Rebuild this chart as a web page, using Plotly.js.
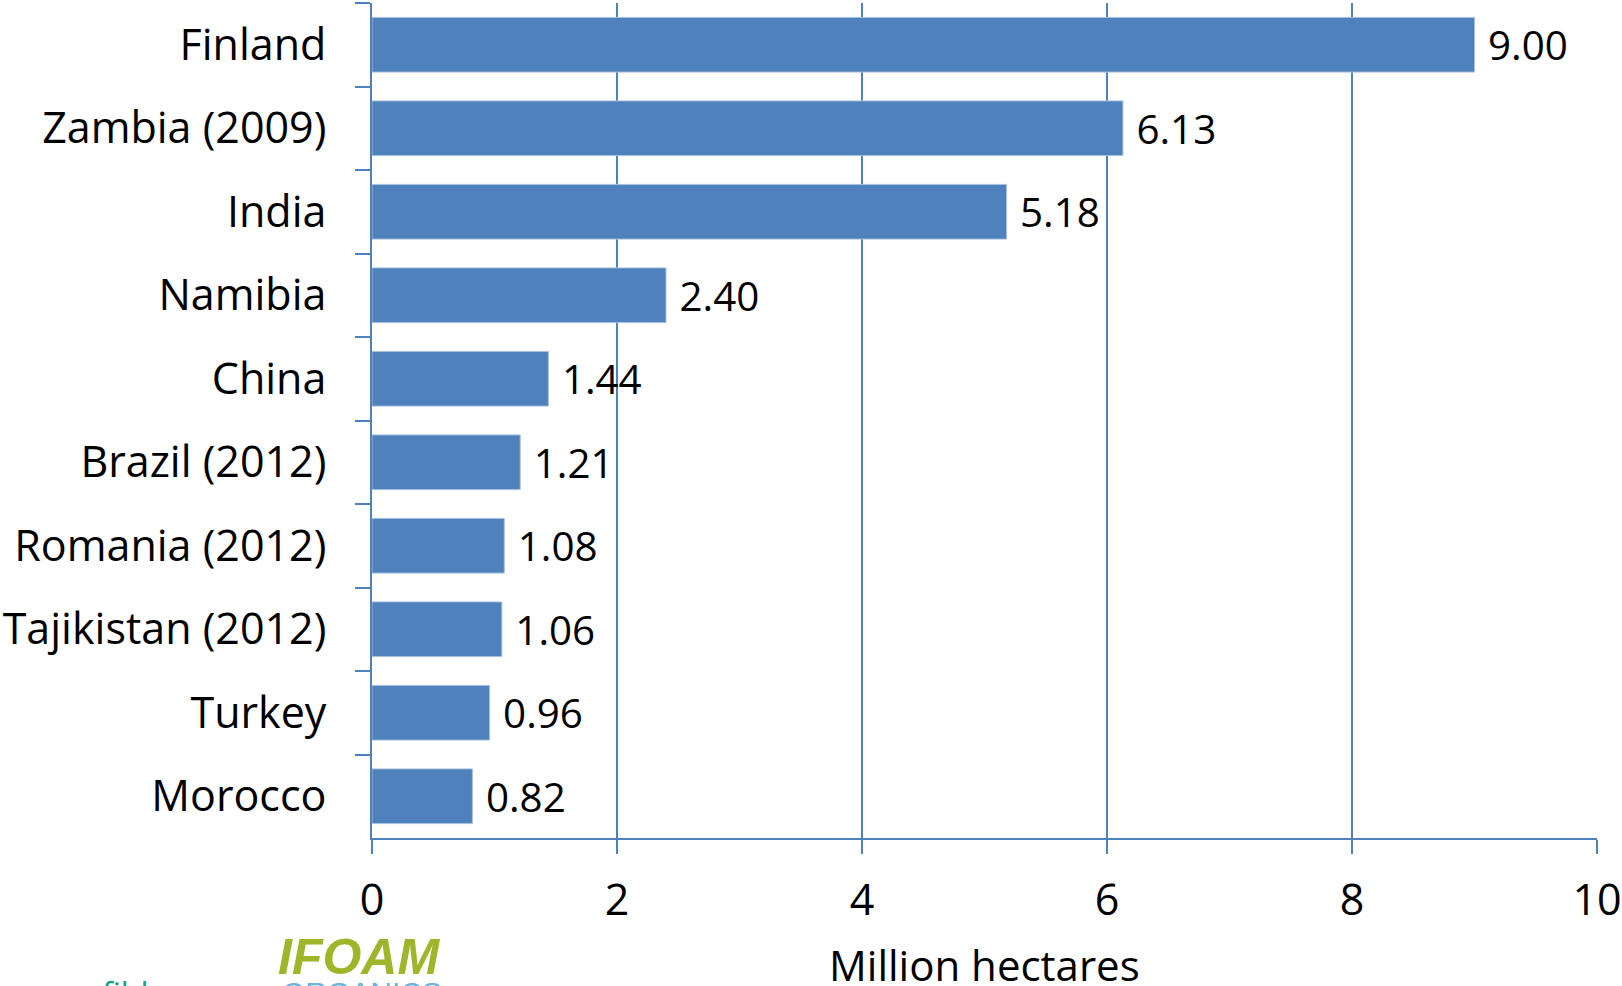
<!DOCTYPE html>
<html>
<head>
<meta charset="utf-8">
<script src="https://cdn.plot.ly/plotly-3.0.1.min.js"></script>
<style>html,body{margin:0;padding:0;background:#fff;overflow:hidden}#chart{width:1622px;height:986px}</style>
</head>
<body>
<div id="chart"></div>
<script>
const categories = ['Finland','Zambia (2009)','India','Namibia','China','Brazil (2012)','Romania (2012)','Tajikistan (2012)','Turkey','Morocco'];
const values = [9.00, 6.13, 5.18, 2.40, 1.44, 1.21, 1.08, 1.06, 0.96, 0.82];
const xTickValues = [0, 2, 4, 6, 8, 10];
const xTitle = 'Million hectares';

const BLUE = '#4F81BD';
const FONT = 'Open Sans, Lato, sans-serif';

const trace = {
  type: 'bar',
  orientation: 'h',
  y: categories,
  x: values,
  marker: {color: BLUE, line: {color: '#A9C0DF', width: 1}},
  text: values.map(v => '\u00a0' + v.toFixed(2)),
  textposition: 'outside',
  textfont: {family: FONT, size: 45, color: '#000'},
  cliponaxis: false,
  hoverinfo: 'none'
};

const layout = {
  width: 1622,
  height: 986,
  margin: {l: 372, r: 25, t: 3, b: 148},
  paper_bgcolor: '#fff',
  plot_bgcolor: '#fff',
  bargap: 0.345,
  showlegend: false,
  font: {family: FONT, size: 43, color: '#000'},
  xaxis: {
    range: [0, 10],
    tickvals: xTickValues,
    ticktext: xTickValues.map(String),
    showgrid: true,
    gridcolor: BLUE,
    gridwidth: 2,
    zeroline: false,
    showline: true,
    linecolor: BLUE,
    linewidth: 2,
    ticks: 'outside',
    ticklen: 14,
    tickwidth: 2,
    tickcolor: BLUE,
    tickfont: {family: FONT, size: 43, color: '#000'},
    ticklabelstandoff: 9,
    automargin: false
  },
  yaxis: {
    type: 'category',
    autorange: 'reversed',
    showgrid: false,
    zeroline: false,
    showline: true,
    linecolor: BLUE,
    linewidth: 2,
    ticks: 'outside',
    tickson: 'boundaries',
    ticklen: 15,
    tickwidth: 2,
    tickcolor: BLUE,
    tickfont: {family: FONT, size: 43, color: '#000'},
    ticklabelstandoff: 35,
    automargin: false
  },
  annotations: [
    {xref: 'paper', yref: 'paper', x: 0.5, y: -0.1155, xanchor: 'center', yanchor: 'top', showarrow: false,
     text: xTitle, font: {family: FONT, size: 42, color: '#000'}},
    {xref: 'paper', yref: 'paper', x: -0.078, y: -0.107, xanchor: 'left', yanchor: 'top', showarrow: false,
     text: '<b><i>IFOAM</i></b>', font: {family: 'Liberation Sans, Arial, sans-serif', size: 50, color: '#9DB62A'}},
    {xref: 'paper', yref: 'paper', x: -0.075, y: -0.163, xanchor: 'left', yanchor: 'top', showarrow: false,
     text: 'ORGANICS', font: {family: 'Liberation Sans, Arial, sans-serif', size: 30, color: '#6BB3DF'}},
    {xref: 'paper', yref: 'paper', x: -0.222, y: -0.158, xanchor: 'left', yanchor: 'top', showarrow: false,
     text: 'fibl.org', font: {family: 'Open Sans, sans-serif', size: 32, color: '#14A085'}}
  ]
};

Plotly.newPlot('chart', [trace], layout, {displayModeBar: false, staticPlot: true});
</script>
</body>
</html>
